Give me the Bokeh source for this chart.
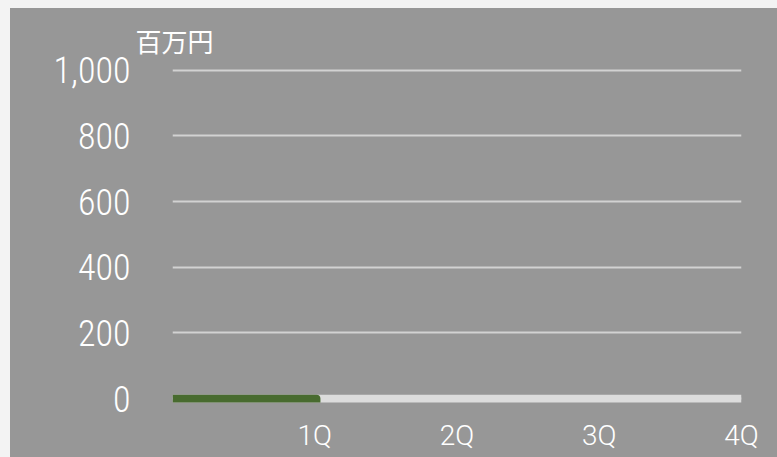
from bokeh.plotting import figure
from bokeh.models import Range1d, FixedTicker
from bokeh.layouts import column
from bokeh.embed import file_html
from bokeh.resources import INLINE

# ---- data ----
quarters = ["1Q", "2Q", "3Q", "4Q"]
quarter_pos = [1, 2, 3, 4]
y_ticks = [0, 200, 400, 600, 800, 1000]
y_tick_labels = ["0", "200", "400", "600", "800", "1,000"]
track_start = [0]
track_end = [4]
progress_value = [1.04]
bar_y = [0]
unit_label = "百万円"

BG = "#979797"
GREEN = "#486b2f"
TRACK = "#dcdcdc"
GRID = "#d2d2d2"

p = figure(width=767, height=449, output_backend="svg", toolbar_location=None,
           x_range=Range1d(0, 4), y_range=Range1d(-30, 1020),
           min_border_left=162, min_border_right=36, min_border_top=55, min_border_bottom=49,
           margin=(8, 0, 0, 10), styles={"background-color": BG})
p.background_fill_color = None
p.border_fill_color = None
p.outline_line_color = None

p.title.text = unit_label
p.title.align = "left"
p.title.offset = -37
p.title.standoff = 10
p.title.text_font = "Noto Sans CJK JP"
p.title.text_font_size = "26px"
p.title.text_font_style = "normal"
p.title.text_color = "#ffffff"

# grid
p.xgrid.grid_line_color = None
p.ygrid.ticker = FixedTicker(ticks=y_ticks)
p.ygrid.grid_line_color = GRID
p.ygrid.grid_line_width = 2

# y axis
ya = p.yaxis[0]
ya.ticker = FixedTicker(ticks=y_ticks)
ya.major_label_overrides = {t: l for t, l in zip(y_ticks, y_tick_labels)}
ya.axis_line_color = None
ya.major_tick_line_color = None
ya.minor_tick_line_color = None
ya.major_tick_out = 0
ya.major_tick_in = 0
ya.minor_tick_out = 0
ya.major_label_standoff = 42
ya.major_label_text_font = "Roboto Condensed Light"
ya.major_label_text_font_size = "36px"
ya.major_label_text_color = "#ffffff"

# x axis
xa = p.xaxis[0]
xa.ticker = FixedTicker(ticks=quarter_pos)
xa.major_label_overrides = {t: l for t, l in zip(quarter_pos, quarters)}
xa.axis_line_color = None
xa.major_tick_line_color = None
xa.minor_tick_line_color = None
xa.major_tick_out = 0
xa.major_tick_in = 0
xa.minor_tick_out = 0
xa.major_label_standoff = 10
xa.major_label_text_font = "Roboto Light"
xa.major_label_text_font_size = "28px"
xa.major_label_text_color = "#ffffff"

# track and progress bar
p.hbar(y=bar_y, left=track_start, right=track_end, height=24, fill_color=TRACK, line_color=None)
p.hbar(y=bar_y, left=track_start, right=progress_value, height=24, fill_color=GREEN, line_color=None,
       border_radius=(0, 4, 0, 0))

root = column(p, styles={"background-color": "#f3f3f3"})
html = file_html(root, INLINE)
open("out.html", "w").write(html)
